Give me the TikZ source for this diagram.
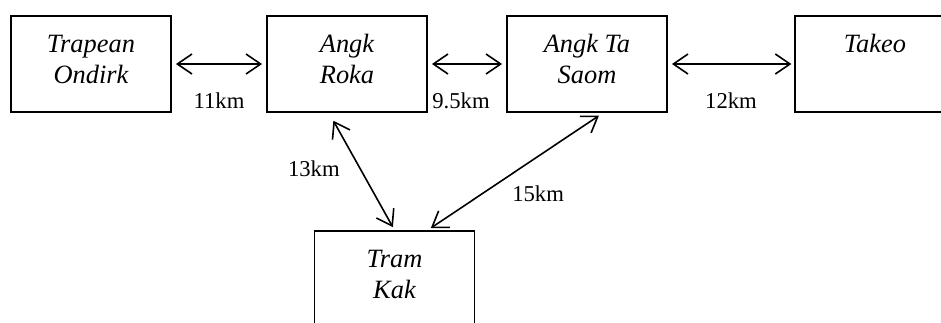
\documentclass[tikz,border=0pt]{standalone}
\usepackage{fontspec}
\setmainfont{Liberation Serif}
\usetikzlibrary{arrows.meta}

\begin{document}
\begin{tikzpicture}[x=0.75pt,y=-0.75pt,
  town/.style={draw,line width=1.4pt,minimum width=120pt,minimum height=72pt,
    align=center,inner sep=0pt,text depth=7.5pt,
    font=\fontsize{19.8}{23.25}\selectfont\itshape},
  road/.style={{Straight Barb[length=11pt,width=15pt]}-{Straight Barb[length=11pt,width=15pt]},
    line width=1.2pt},
  dist/.style={inner sep=0pt,font=\fontsize{17}{20}\selectfont}]
\useasboundingbox (0,0) rectangle (941,322);
\node[town] (trap) at (91,64) {Trapean\\Ondirk};
\node[town] (roka) at (347,64) {Angk\\Roka};
\node[town] (saom) at (587,64) {Angk Ta\\Saom};
\node[town] (takeo) at (875,64) {Takeo\\\mbox{}};
\node[town] (tram) at (394.5,279) {Tram\\Kak};
\draw[road,shorten <=3pt,shorten >=3pt] (trap) -- node[dist,below=21pt] {11km} (roka);
\draw[road,shorten <=3pt,shorten >=3pt] (roka) -- node[dist,below=21pt,xshift=-4.5pt] {9.5km} (saom);
\draw[road,shorten <=3pt,shorten >=2pt] (saom) -- node[dist,below=21pt] {12km} (takeo);
\draw[road,shorten <=6.7pt,shorten >=2.5pt] ([xshift=-13.5pt]roka.south) --
  node[dist,pos=0.48,left=15pt] {13km} (tram.north);
\draw[road,shorten <=3.7pt,shorten >=2.7pt] ([xshift=12pt]saom.south) --
  node[dist,pos=0.69,right=22pt] {15km} ([xshift=25pt]tram.north);
\end{tikzpicture}
\end{document}
